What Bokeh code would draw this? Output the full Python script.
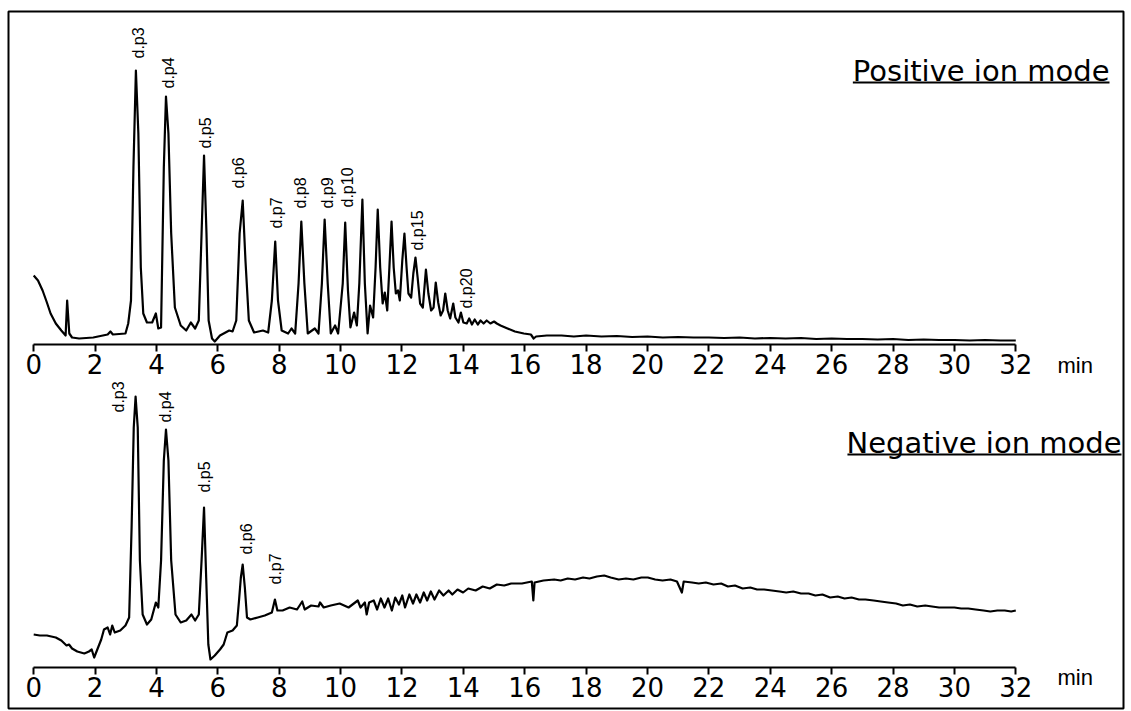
import math
from bokeh.plotting import figure
from bokeh.models import Range1d, FixedTicker, LinearAxis, ColumnDataSource
from bokeh.core.properties import value
from bokeh.embed import file_html
from bokeh.resources import INLINE

# ---------------- data ----------------
# Positive ion mode chromatogram: retention time (min) and intensity (a.u.)
pos_t = [0.00, 0.14, 0.29, 0.43, 0.55, 0.72, 0.90, 1.04, 1.09, 1.16, 1.25, 1.48, 1.94, 2.41,
         2.50, 2.58, 2.99, 3.08, 3.17, 3.25, 3.33, 3.41, 3.49, 3.57, 3.69, 3.86, 3.98, 4.06,
         4.15, 4.24, 4.31, 4.39, 4.48, 4.60, 4.79, 4.97, 5.12, 5.26, 5.38, 5.47, 5.55, 5.63,
         5.70, 5.81, 5.90, 6.07, 6.37, 6.48, 6.60, 6.71, 6.81, 6.90, 7.01, 7.18, 7.47, 7.64,
         7.76, 7.87, 7.96, 8.08, 8.29, 8.40, 8.52, 8.63, 8.72, 8.82, 8.93, 9.16, 9.28, 9.39,
         9.48, 9.58, 9.68, 9.82, 9.92, 10.07, 10.15, 10.24, 10.32, 10.44, 10.53, 10.61, 10.71,
         10.79, 10.88, 10.96, 11.06, 11.14, 11.21, 11.29, 11.37, 11.44, 11.52, 11.59, 11.66,
         11.73, 11.80, 11.87, 11.93, 12.01, 12.08, 12.15, 12.21, 12.30, 12.37, 12.44, 12.51,
         12.59, 12.68, 12.78, 12.86, 12.95, 13.03, 13.10, 13.18, 13.26, 13.34, 13.41, 13.49,
         13.57, 13.67, 13.74, 13.84, 13.92, 14.00, 14.11, 14.19, 14.28, 14.37, 14.47, 14.56,
         14.66, 14.76, 14.88, 15.00, 15.09, 15.21, 15.44, 15.68, 15.97, 16.20, 16.29, 16.37,
         16.72, 17.20, 17.60, 18.00, 18.50, 19.00, 19.50, 20.00, 20.50, 21.00, 21.50, 22.00,
         22.50, 23.00, 23.50, 24.00, 24.50, 25.00, 25.50, 26.00, 26.50, 27.00, 27.50, 28.00,
         28.50, 29.00, 29.50, 30.00, 30.50, 31.00, 31.50, 32.00]
pos_i = [69, 64, 54, 42, 31, 21, 14, 9, 44, 11, 7, 6, 7, 10,
         13, 10, 11, 21, 44, 177, 274, 211, 77, 31, 22, 22, 31, 16,
         17, 177, 248, 211, 111, 37, 19, 14, 22, 16, 24, 111, 189, 111,
         24, 6, 3, 9, 14, 13, 24, 111, 144, 84, 24, 12, 14, 12,
         44, 103, 44, 14, 11, 16, 11, 61, 123, 61, 11, 16, 11, 61,
         125, 61, 11, 19, 11, 61, 122, 54, 17, 32, 19, 61, 145,
         61, 11, 39, 27, 77, 135, 77, 41, 52, 34, 77, 123,
         77, 51, 54, 44, 84, 111, 77, 51, 47, 71, 87, 67,
         41, 37, 75, 51, 34, 37, 62, 42, 29, 34, 51, 34,
         26, 41, 27, 22, 32, 22, 21, 26, 20, 25, 20, 24,
         21, 24, 21, 23, 21, 19, 16, 13, 11, 10, 6, 8,
         9, 9, 8, 9, 8, 8.5, 7.5, 8, 7, 7.5, 7, 7,
         6.5, 7, 6, 6.5, 6, 6.5, 5.5, 6, 5.5, 5.5, 5, 5.5,
         4.5, 5, 4.5, 4.5, 4, 4.5, 4, 4]

# Negative ion mode chromatogram
neg_t = [0.00, 0.20, 0.43, 0.72, 0.90, 1.07, 1.15, 1.25, 1.42, 1.65, 1.80, 1.89, 1.97, 2.06,
         2.20, 2.29, 2.41, 2.49, 2.56, 2.64, 2.82, 2.99, 3.11, 3.19, 3.26, 3.32, 3.39, 3.46,
         3.55, 3.69, 3.83, 3.98, 4.06, 4.15, 4.24, 4.31, 4.39, 4.48, 4.62, 4.79, 4.97, 5.14,
         5.26, 5.38, 5.47, 5.55, 5.62, 5.69, 5.76, 5.90, 6.07, 6.19, 6.31, 6.48, 6.62, 6.69,
         6.75, 6.81, 6.88, 6.95, 7.06, 7.30, 7.53, 7.76, 7.86, 7.94, 8.11, 8.34, 8.58, 8.75,
         8.83, 9.04, 9.28, 9.33, 9.45, 9.68, 9.97, 10.26, 10.56, 10.65, 10.79, 10.85, 10.93,
         11.08, 11.19, 11.31, 11.43, 11.55, 11.67, 11.78, 11.90, 12.01, 12.10, 12.24, 12.36,
         12.47, 12.59, 12.71, 12.82, 12.94, 13.06, 13.21, 13.35, 13.52, 13.64, 13.81, 13.99,
         14.16, 14.40, 14.63, 14.86, 15.09, 15.33, 15.56, 15.91, 16.23, 16.28, 16.32, 16.61,
         16.96, 17.17, 17.40, 17.64, 17.90, 18.11, 18.35, 18.59, 18.80, 19.06, 19.30, 19.54,
         19.80, 20.01, 20.25, 20.49, 20.75, 20.96, 21.12, 21.18, 21.45, 21.67, 21.90, 22.15,
         22.40, 22.62, 22.85, 23.10, 23.35, 23.57, 23.80, 24.05, 24.30, 24.52, 24.75, 25.00,
         25.25, 25.47, 25.70, 25.95, 26.20, 26.42, 26.65, 26.89, 27.10, 27.37, 27.60, 27.84,
         28.10, 28.32, 28.55, 28.79, 29.05, 29.27, 29.50, 29.74, 30.00, 30.22, 30.45, 30.69,
         30.95, 31.17, 31.40, 31.64, 31.85, 32.00]
neg_i = [33, 32, 32, 30, 27, 22, 23, 19, 16, 14, 16, 18, 10, 17,
         28, 38, 40, 33, 42, 35, 37, 42, 50, 140, 240, 271, 240, 107,
         53, 43, 48, 65, 60, 107, 207, 238, 207, 107, 53, 45, 47, 53,
         47, 53, 107, 160, 90, 23, 8, 12, 18, 23, 35, 37, 42, 67,
         90, 103, 80, 50, 48, 50, 52, 55, 68, 57, 57, 60, 58, 66,
         58, 62, 61, 65, 60, 62, 64, 60, 67, 60, 65, 53, 65,
         67, 58, 69, 60, 69, 57, 70, 63, 72, 60, 73, 64,
         73, 65, 75, 67, 76, 68, 77, 72, 77, 73, 78, 75,
         79, 77, 81, 79, 83, 82, 84, 84, 86, 67, 85, 87,
         88, 87, 89, 88, 90, 89, 91, 92, 90, 88, 89, 88,
         90, 90, 88, 87, 88, 86, 75, 86, 85, 84, 85, 83,
         84, 81, 82, 79, 80, 78, 78, 77, 76, 75, 76, 74,
         74, 72, 73, 70, 71, 69, 70, 68, 68, 67, 66, 65,
         64, 62, 63, 61, 62, 61, 60, 60, 60, 59, 59, 58,
         57, 56, 57, 57, 56, 57]

# Peak annotations (degree of polymerisation)
pos_labels = ["d.p3", "d.p4", "d.p5", "d.p6", "d.p7", "d.p8", "d.p9", "d.p10", "d.p15", "d.p20"]
pos_peak_t = [3.33, 4.31, 5.55, 6.81, 7.87, 8.72, 9.48, 10.15, 12.44, 13.92]
pos_peak_i = [274, 248, 189, 144, 103, 123, 125, 122, 87, 32]
neg_labels = ["d.p3", "d.p4", "d.p5", "d.p6", "d.p7"]
neg_peak_t = [3.32, 4.31, 5.55, 6.81, 7.86]
neg_peak_i = [271, 238, 160, 103, 68]

x_ticks = list(range(0, 33, 2))
pos_title = "Positive ion mode"
neg_title = "Negative ion mode"
unit_label = "min"

# ---------------- layout / style constants ----------------
W, H = 1131, 711
FR_L, FR_R, FR_T, FR_B = 8, 1123, 11, 708        # frame (= outer border) in page pixels
T0_PX, PX_PER_MIN = 33.2, 30.69                   # x position of t = 0 and scale
POS_AXIS_PX, NEG_AXIS_PX = 344, 667               # page y of the two time axes
X_START = (FR_L - T0_PX) / PX_PER_MIN
X_END = (FR_R - T0_PX) / PX_PER_MIN
TICK_FONT = "DejaVu Sans"
LABEL_FONT = "Liberation Sans"

# label offsets (min, a.u.) relative to each peak apex
pos_dx = [0.07, 0.08, 0.06, -0.15, 0.03, -0.03, 0.09, 0.08, 0.07, 0.18]
pos_dy = [12, 8, 7, 12, 13, 13, 11, 15, 7, 4]
neg_dx = [-0.56, -0.02, 0.02, 0.11, 0.02]
neg_dy = [-16, 7, 15, 10, 15]

p = figure(width=W, height=H, output_backend="svg", toolbar_location=None,
           x_range=Range1d(X_START, X_END),
           y_range=Range1d(POS_AXIS_PX - FR_B, POS_AXIS_PX - FR_T),
           y_axis_location=None, x_axis_location=None,
           min_border_left=FR_L, min_border_right=W - FR_R,
           min_border_top=FR_T, min_border_bottom=H - FR_B)
p.extra_y_ranges = {"neg": Range1d(NEG_AXIS_PX - FR_B, NEG_AXIS_PX - FR_T)}
p.outline_line_color = "black"
p.outline_line_width = 2
p.xgrid.visible = False
p.ygrid.visible = False
p.background_fill_color = "white"
p.border_fill_color = "white"


def make_axis(loc):
    ax = LinearAxis(fixed_location=loc)
    ax.ticker = FixedTicker(ticks=x_ticks)
    ax.bounds = (0, 32)
    ax.axis_line_width = 2
    ax.axis_line_color = "black"
    ax.major_tick_line_width = 2
    ax.major_tick_line_color = "black"
    ax.major_tick_in = 0
    ax.major_tick_out = 7
    ax.minor_tick_line_color = None
    ax.major_label_standoff = 2
    ax.major_label_text_font = TICK_FONT
    ax.major_label_text_font_size = "26px"
    ax.major_label_text_color = "black"
    return ax


p.add_layout(make_axis(0), "below")
p.add_layout(make_axis(POS_AXIS_PX - NEG_AXIS_PX), "below")


def draw_panel(t, inten, labels, pk_t, pk_i, dx, dy, title, title_right_px, title_em,
               title_y, min_y, rng):
    kw = {} if rng is None else {"y_range_name": rng}
    p.line(t, inten, line_color="black", line_width=2.2, line_join="round", **kw)
    src = ColumnDataSource(dict(x=[a + b for a, b in zip(pk_t, dx)],
                                y=[a + b for a, b in zip(pk_i, dy)],
                                text=labels))
    p.text(x="x", y="y", text="text", source=src, angle=math.pi / 2,
           text_align="left", text_baseline="middle",
           text_font=value(LABEL_FONT), text_font_size="16px", text_color="black", **kw)
    tx = (title_right_px - T0_PX) / PX_PER_MIN
    p.text(x=[tx], y=[title_y - 7], text=[title], text_align="right", text_baseline="bottom",
           text_font=value(TICK_FONT), text_font_size="29px", text_color="black", **kw)
    w = title_em * 29 / PX_PER_MIN
    p.segment(x0=[tx - w], x1=[tx], y0=[title_y - 2], y1=[title_y - 2],
              line_color="black", line_width=2, **kw)
    p.text(x=[(1057 - T0_PX) / PX_PER_MIN], y=[min_y], text=[unit_label],
           text_align="left", text_baseline="middle",
           text_font=value(LABEL_FONT), text_font_size="22px", text_color="black", **kw)


draw_panel(pos_t, pos_i, pos_labels, pos_peak_t, pos_peak_i, pos_dx, pos_dy,
           pos_title, 1109, 8.85, 264, -21, None)
draw_panel(neg_t, neg_i, neg_labels, neg_peak_t, neg_peak_i, neg_dx, neg_dy,
           neg_title, 1121, 9.45, 215, -10, "neg")

open("out.html", "w").write(file_html(p, INLINE))
